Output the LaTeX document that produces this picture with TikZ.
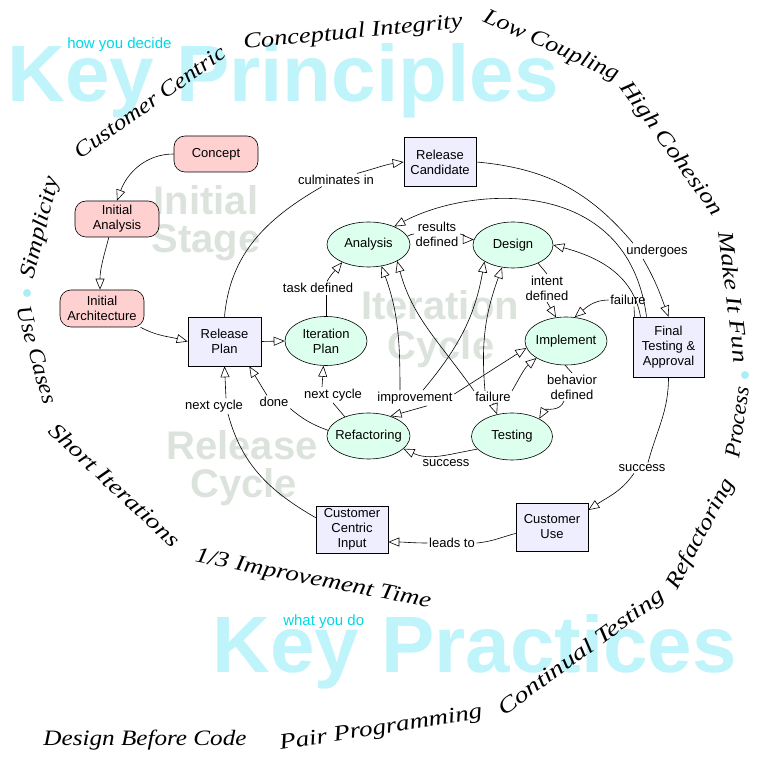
\documentclass[tikz,border=0pt]{standalone}
\usepackage{fontspec}
\usepackage{graphicx}
\usetikzlibrary{arrows.meta,shapes.geometric}
\newfontfamily\arialf{Liberation Sans}
\newfontfamily\hwf{Liberation Serif}
\definecolor{pinkf}{HTML}{FFD0D0}
\definecolor{bluef}{HTML}{EEEEFF}
\definecolor{mintf}{HTML}{DDFFEE}
\definecolor{bigcyan}{HTML}{C0F4FB}
\definecolor{smallcyan}{HTML}{00D8E6}
\definecolor{wmgray}{HTML}{DCE3DC}
\definecolor{dotcyan}{HTML}{AAEEF8}
\newcommand\hwtext[2]{\resizebox{#1}{\height}{\hwf\itshape\fontsize{22}{24}\selectfont #2}}
\begin{document}
\begin{tikzpicture}[x=1pt,y=1pt,line width=0.6pt,
  nfont/.style={font=\arialf\fontsize{13}{15}\selectfont},
  pinkbox/.style={nfont, draw, fill=pinkf, rounded corners=11pt, minimum width=84pt, minimum height=36pt, inner sep=0pt, align=center},
  bluebox/.style={nfont, draw, fill=bluef, minimum width=72pt, minimum height=48pt, inner sep=0pt, align=center},
  ell/.style={nfont, ellipse, draw, fill=mintf, inner sep=-6pt, align=center},
  lbl/.style={nfont, inner sep=1.5pt, align=center},
  arr/.style={-{Triangle[length=11pt,width=9pt,fill=white]}},
  hw/.style={inner sep=0pt},
  wm/.style={font=\arialf\bfseries\fontsize{40}{40}\selectfont, text=wmgray, inner sep=0pt, anchor=base},
  big/.style={font=\arialf\bfseries\fontsize{80}{80}\selectfont, text=bigcyan, inner sep=0pt, anchor=base west},
  sub/.style={font=\arialf\fontsize{15}{15}\selectfont, text=smallcyan, inner sep=0pt, anchor=base west}]
\path[use as bounding box] (0,0) rectangle (763,764);
% watermarks
\node[wm] (wm1) at (206,549) {Initial};
\node[wm] (wm2) at (206,511) {Stage};
\node[wm] (wm3) at (440,444) {Iteration};
\node[wm] (wm4) at (441,404) {Cycle};
\node[wm] (wm5) at (242,304) {Release};
\node[wm] (wm6) at (243.5,266) {Cycle};
% big headings
\node[big] (kp) at (7,662) {Key Principles};
\node[big] (kpr) at (212,91) {Key Practices};
\node[sub] (hyd) at (67,715) {how you decide};
\node[sub] (wyd) at (283,138) {what you do};
% handwriting ring
\node[hw, rotate=5.5] (p1) at (353,731) {\hwtext{220pt}{Conceptual Integrity}};
\node[hw, rotate=-24] (p2) at (551,718) {\hwtext{146pt}{Low Coupling}};
\node[hw, rotate=-54] (p3) at (671,615) {\hwtext{160pt}{High Cohesion}};
\node[hw, rotate=-83] (p4) at (734,467) {\hwtext{132pt}{Make It Fun}};
\node[hw, rotate=82] (p5) at (737,342) {\hwtext{72pt}{Process}};
\node[hw, rotate=62] (p6) at (701,230) {\hwtext{122pt}{Refactoring}};
\node[hw, rotate=36] (p7) at (582,111) {\hwtext{200pt}{Continual Testing}};
\node[hw, rotate=9] (p8) at (381,35) {\hwtext{205pt}{Pair Programming}};
\node[hw] (p9) at (145,24) {\hwtext{203pt}{Design Before Code}};
\node[hw, rotate=-11] (p10) at (313,184) {\hwtext{240pt}{1/3 Improvement Time}};
\node[hw, rotate=-43] (p11) at (115,279) {\hwtext{170pt}{Short Iterations}};
\node[hw, rotate=-74] (p12) at (37,409) {\hwtext{100pt}{Use Cases}};
\node[hw, rotate=76] (p13) at (41,536) {\hwtext{104pt}{Simplicity}};
\node[hw, rotate=35] (p14) at (150,662) {\hwtext{179pt}{Customer Centric}};
\fill[dotcyan] (745,389) circle (4pt);
\fill[dotcyan] (27,471) circle (4pt);
% nodes
\node[pinkbox] (concept) at (216,610) {Concept};
\node[pinkbox] (ianal) at (117,545) {Initial\\Analysis};
\node[pinkbox, minimum height=37pt] (iarch) at (102,455.5) {Initial\\Architecture};
\node[bluebox, minimum width=73pt, minimum height=49pt] (rplan) at (224.5,422.5) {Release\\Plan};
\node[bluebox, minimum height=49pt] (rcand) at (440,602) {Release\\Candidate};
\node[bluebox, minimum width=71pt, minimum height=60pt] (fta) at (668.5,417) {Final\\Testing \&\\Approval};
\node[bluebox] (cuse) at (552,237) {Customer\\Use};
\node[bluebox, minimum height=47pt] (cci) at (352,234.5) {Customer\\Centric\\Input};
\node[ell, minimum width=83pt, minimum height=45pt] (anal) at (368.5,519.5) {Analysis};
\node[ell, minimum width=80pt, minimum height=46pt] (design) at (513,519) {Design};
\node[ell, minimum width=82pt, minimum height=49pt] (iplan) at (326,423) {Iteration\\Plan};
\node[ell, minimum width=82pt, minimum height=48pt] (impl) at (566,423) {Implement};
\node[ell, minimum width=83pt, minimum height=46pt] (refac) at (368.5,328) {Refactoring};
\node[ell, minimum width=81pt, minimum height=47pt] (test) at (512,327.5) {Testing};
% labels
\node[lbl] (lcul) at (336,584) {culminates in};
\node[lbl] (ltask) at (318,476) {task defined};
\node[lbl] (lres) at (437,530) {results\\defined};
\node[lbl] (lint) at (547,476) {intent\\defined};
\node[lbl] (lfailb) at (628,464) {failure};
\node[lbl] (lunder) at (657,513) {undergoes};
\node[lbl] (lbeh) at (572,377) {behavior\\defined};
\node[lbl] (limp) at (415,366) {improvement};
\node[lbl, inner sep=1pt] (lfail) at (493,367) {failure};
\node[lbl] (lnca) at (333,369) {next cycle};
\node[lbl] (ldone) at (274,362) {done};
\node[lbl] (lncb) at (214,358) {next cycle};
\node[lbl] (lsucca) at (446,301) {success};
\node[lbl] (lleads) at (452,221) {leads to};
\node[lbl] (lsuccb) at (642,296) {success};
% connectors
\draw[arr] (concept.west) to[out=180,in=70] (ianal.north);
\draw[arr] (ianal.-114) to[out=-105,in=90] ([xshift=-2pt]iarch.north);
\draw[arr] (iarch.-26) to[out=-28,in=165] (rplan.west);
\draw[arr] (rplan.east) -- (iplan.west);
\draw (rplan.north) to[out=85,in=210] ([xshift=-14pt]lcul.south);
\draw[arr] ([xshift=21pt]lcul.north) to[out=15,in=188] (rcand.west);
\draw (iplan.north) -- (iplan.north |- ltask.south);
\draw[arr] ([xshift=9pt]ltask.north) to[out=60,in=-130] (anal.-146);
\draw (anal.12) to[out=20,in=180] (lres.west);
\draw[arr] (lres.east) to[out=0,in=180] (design.172);
\draw (design.-36) -- (lint.north);
\draw[arr] (lint.south) -- (impl.113);
\draw (impl.-92) -- (lbeh.north);
\draw[arr] ([xshift=-8pt]lbeh.south) to[out=-110,in=60] (test.33);
\draw[arr] (test.-160) to[out=190,in=-25] (refac.-20);
\draw (refac.141) -- (lnca.south);
\draw[arr] ([xshift=-11pt]lnca.north) -- (iplan.-96);
\draw (refac.172) to[out=160,in=-40] (ldone.south east);
\draw[arr] ([xshift=-7pt]ldone.north) -- (rplan.-45);
\draw (cci.162) to[out=150,in=-75] ([xshift=14pt]lncb.south);
\draw[arr] ([xshift=12pt]lncb.north) -- (rplan.south);
\draw (cuse.190) to[out=195,in=5] (lleads.east);
\draw[arr] (lleads.west) to[out=180,in=0] (cci.-19);
\draw (fta.south) to[out=-90,in=75] ([xshift=6pt]lsuccb.north);
\draw[arr] ([xshift=-8pt]lsuccb.south) to[out=-125,in=34] (cuse.25);
\draw (rcand.east) to[out=-5,in=130] ([xshift=-24pt]lunder.north);
\draw[arr] ([xshift=-14pt]lunder.south) to[out=-60,in=110] (fta.north);
\draw[arr] ([xshift=-22pt]fta.north) .. controls (628,590) and (470,578) .. (anal.35);
\draw[arr] ([xshift=-28pt]fta.north) to[out=100,in=-15] (design.east);
\draw ([xshift=-34pt]fta.north) -- ([xshift=6pt]lfailb.south);
\draw[arr] (lfailb.west) to[out=180,in=40] (impl.70);
\draw[arr] ([xshift=-15pt]limp.north) to[out=90,in=-70] (anal.-59);
\draw[arr] ([xshift=8pt]limp.north) to[out=50,in=-100] (design.-150);
\draw[arr] ([yshift=4pt]limp.east) -- (impl.-170);
\draw[arr] ([xshift=12pt]limp.south) -- (refac.42);
\draw[arr] (lfail.north west) to[out=125,in=-75] (anal.-30);
\draw[arr] ([xshift=-8pt]lfail.north) to[out=95,in=-110] (design.-116);
\draw[arr] (lfail.north east) to[out=60,in=-140] (impl.-150);
\draw[arr] (lfail.south) -- (test.124);
\end{tikzpicture}
\end{document}
